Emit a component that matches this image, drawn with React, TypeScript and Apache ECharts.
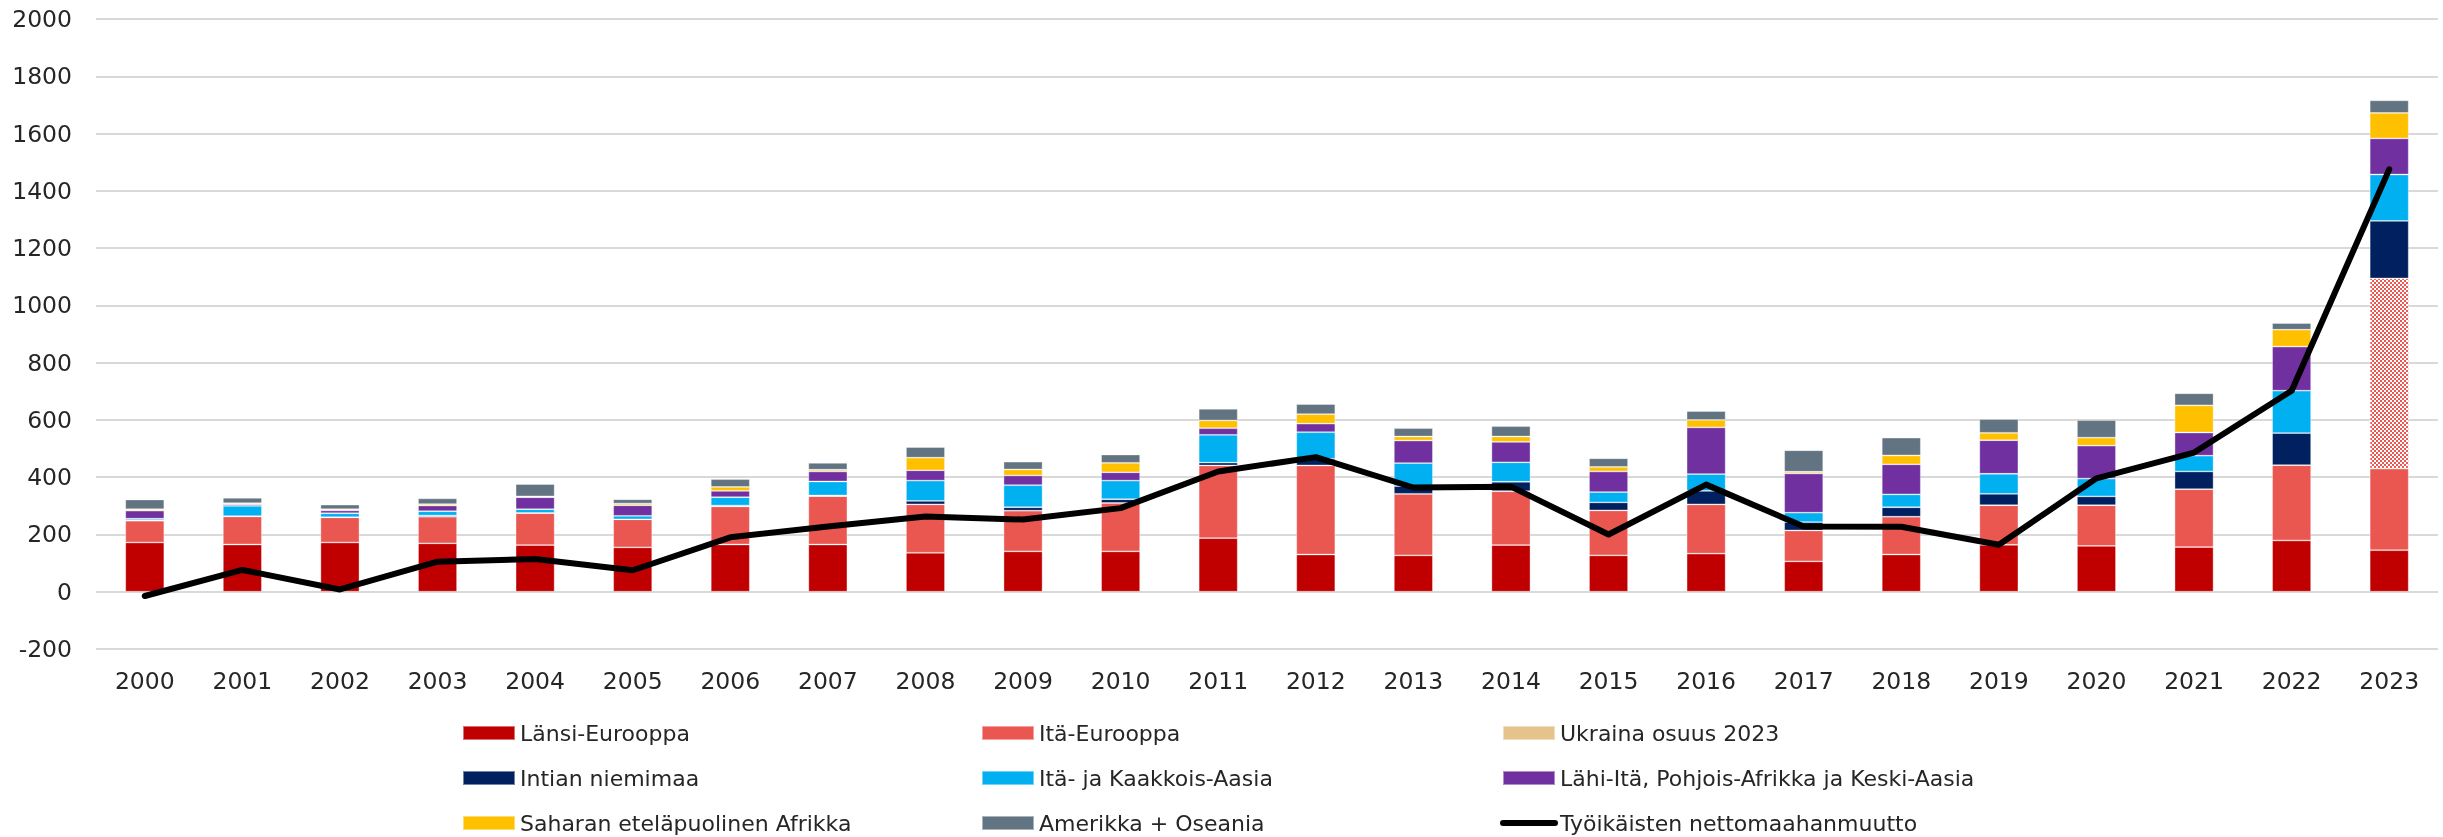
import React, { useEffect, useRef } from 'react';
import * as echarts from 'echarts';

const years = ['2000', '2001', '2002', '2003', '2004', '2005', '2006', '2007', '2008', '2009', '2010', '2011', '2012', '2013', '2014', '2015', '2016', '2017', '2018', '2019', '2020', '2021', '2022', '2023'];

const lansiEurooppa = [172, 165, 172, 169, 163, 155, 165, 165, 136, 141, 141, 187, 130, 127, 163, 127, 133, 106, 130, 164, 160, 156, 179, 145];
const itaEurooppa = [76, 98, 88, 93, 112, 98, 133, 169, 169, 142, 169, 254, 311, 215, 188, 157, 172, 108, 132, 138, 142, 202, 263, 285];
const ukrainaOsuus2023 = [0, 0, 0, 0, 0, 0, 0, 0, 0, 0, 0, 0, 0, 0, 0, 0, 0, 0, 0, 0, 0, 0, 0, 664];
const intianNiemimaa = [2, 1, 0, 4, 0, 0, 3, 2, 12, 12, 13, 10, 23, 27, 33, 28, 47, 29, 33, 40, 31, 62, 112, 201];
const itaKaakkoisAasia = [5, 36, 14, 15, 13, 12, 29, 49, 71, 77, 65, 97, 93, 80, 68, 36, 59, 33, 45, 70, 62, 55, 148, 162];
const lahiIta = [28, 5, 10, 20, 42, 37, 22, 35, 36, 34, 29, 23, 30, 79, 71, 72, 163, 137, 105, 117, 115, 81, 154, 126];
const saharanAfrikka = [5, 4, 4, 5, 3, 6, 14, 6, 44, 21, 33, 27, 33, 14, 19, 16, 26, 6, 31, 26, 28, 95, 59, 89];
const amerikkaOseania = [34, 19, 16, 20, 43, 15, 27, 24, 37, 27, 29, 41, 35, 29, 36, 30, 31, 75, 62, 48, 61, 42, 23, 44];
const nettomaahanmuutto = [-15, 76, 8, 105, 114, 75, 190, 228, 263, 252, 292, 420, 470, 364, 367, 200, 374, 228, 227, 164, 396, 486, 702, 1475];

const N_LANSI = 'Länsi-Eurooppa';
const N_ITA = 'Itä-Eurooppa';
const N_UKR = 'Ukraina osuus 2023';
const N_INT = 'Intian niemimaa';
const N_ASIA = 'Itä- ja Kaakkois-Aasia';
const N_LAHI = 'Lähi-Itä, Pohjois-Afrikka ja Keski-Aasia';
const N_SAH = 'Saharan eteläpuolinen Afrikka';
const N_AM = 'Amerikka + Oseania';
const N_LINE = 'Työikäisten nettomaahanmuutto';

const FONT = 'DejaVu Sans';
const TEXT = '#262626';

export default function App() {
  const ref = useRef<HTMLDivElement>(null);

  useEffect(() => {
    if (!ref.current) return;
    const chart = echarts.init(ref.current, null, { renderer: 'svg' });

    const cv = document.createElement('canvas');
    cv.width = 4;
    cv.height = 4;
    const ctx = cv.getContext('2d')!;
    ctx.fillStyle = '#ffffff';
    ctx.fillRect(0, 0, 4, 4);
    ctx.fillStyle = '#EA5650';
    ctx.fillRect(0, 0, 2, 2);
    ctx.fillRect(2, 2, 2, 2);
    const pattern: any = { image: cv.toDataURL(), repeat: 'repeat', imageWidth: 4, imageHeight: 4 };

    const bar = (name: string, data: number[], color: any) => ({
      name,
      type: 'bar',
      stack: 'total',
      barWidth: 39,
      data,
      itemStyle: { color, borderColor: 'rgba(255,255,255,0.45)', borderWidth: 0.8 },
      emphasis: { disabled: true },
    });

    const legendBase = {
      orient: 'vertical',
      top: 722,
      padding: 0,
      height: 115,
      itemWidth: 52,
      itemHeight: 14,
      itemGap: 23,
      selectedMode: false,
      textStyle: { fontFamily: FONT, fontSize: 22, color: TEXT, lineHeight: 20 },
    };

    chart.setOption({
      animation: false,
      textStyle: { fontFamily: FONT },
      grid: { left: 96, right: 5, top: 19, bottom: 188, containLabel: false },
      legend: [
        { ...legendBase, left: 462, icon: 'rect', data: [N_LANSI, N_INT, N_SAH] },
        { ...legendBase, left: 981, icon: 'rect', data: [N_ITA, N_ASIA, N_AM] },
        {
          ...legendBase,
          left: 1500,
          lineStyle: { width: 6, cap: 'round', color: '#000000' },
          data: [
            { name: N_UKR, icon: 'rect', itemStyle: { color: '#E6C38A', decal: 'none' } },
            { name: N_LAHI, icon: 'rect' },
            { name: N_LINE, itemStyle: { opacity: 0 } },
          ],
        },
      ],
      xAxis: {
        type: 'category',
        data: years,
        axisLine: { show: false, onZero: false },
        axisTick: { show: false },
        axisLabel: { fontFamily: FONT, fontSize: 23.5, color: TEXT, margin: 20 },
      },
      yAxis: {
        type: 'value',
        min: -200,
        max: 2000,
        interval: 200,
        axisLine: { show: false },
        axisTick: { show: false },
        axisLabel: { fontFamily: FONT, fontSize: 23.5, color: TEXT, margin: 24, formatter: (v: number) => String(v) },
        splitLine: { lineStyle: { color: '#D9D9D9', width: 2 } },
      },
      series: [
        bar(N_LANSI, lansiEurooppa, '#C00000'),
        bar(N_ITA, itaEurooppa, '#EA5650'),
        bar(N_UKR, ukrainaOsuus2023, pattern),
        bar(N_INT, intianNiemimaa, '#002060'),
        bar(N_ASIA, itaKaakkoisAasia, '#00B0F0'),
        bar(N_LAHI, lahiIta, '#7030A0'),
        bar(N_SAH, saharanAfrikka, '#FFC000'),
        bar(N_AM, amerikkaOseania, '#627382'),
        {
          name: N_LINE,
          type: 'line',
          data: nettomaahanmuutto,
          symbol: 'none',
          showSymbol: false,
          z: 10,
          lineStyle: { color: '#000000', width: 6, cap: 'round', join: 'round' },
          itemStyle: { color: '#000000' },
          emphasis: { disabled: true },
        },
      ],
    });

    return () => chart.dispose();
  }, []);

  return <div ref={ref} style={{ position: 'fixed', left: 0, top: 0, width: 2443, height: 837 }} />;
}
